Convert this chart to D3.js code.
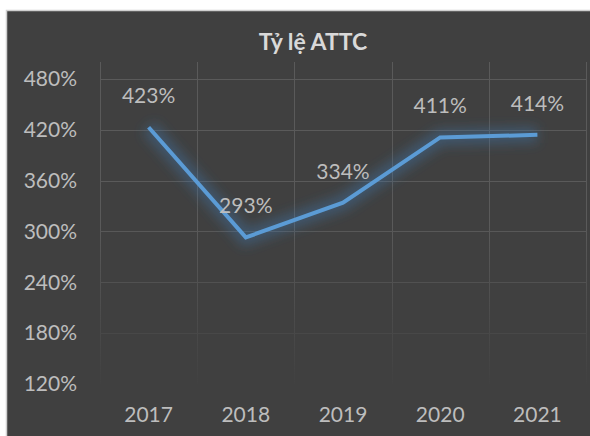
<!DOCTYPE html>
<html><head><meta charset="utf-8">
<script src="https://cdn.jsdelivr.net/npm/d3@7"></script>
<style>html,body{margin:0;padding:0;background:#fff;}svg{display:block;}</style>
</head><body>
<script>
const years = ["2017","2018","2019","2020","2021"];
const ratios = [423, 293, 334, 411, 414];
const yTicks = [120, 180, 240, 300, 360, 420, 480];
const title = "Tỷ lệ ATTC";

const W = 590, H = 436;
const svg = d3.select("body").append("svg").attr("width", W).attr("height", H);
const defs = svg.append("defs");

const glow = defs.append("filter").attr("id","glow").attr("x","-20%").attr("y","-50%").attr("width","140%").attr("height","200%");
glow.append("feGaussianBlur").attr("stdDeviation", 6);

const grad = defs.append("linearGradient").attr("id","fade").attr("gradientUnits","userSpaceOnUse")
  .attr("x1",0).attr("y1",225).attr("x2",0).attr("y2",392);
grad.append("stop").attr("offset",0).attr("stop-color","#fff").attr("stop-opacity",1);
grad.append("stop").attr("offset",1).attr("stop-color","#fff").attr("stop-opacity",0);
defs.append("mask").attr("id","gridmask").attr("maskUnits","userSpaceOnUse")
  .attr("x",0).attr("y",0).attr("width",W).attr("height",H)
  .append("rect").attr("x",0).attr("y",0).attr("width",W).attr("height",H).attr("fill","url(#fade)");

// panel
svg.append("rect").attr("x",6.5).attr("y",10.5).attr("width",W).attr("height",H)
  .attr("fill","#404040").attr("stroke","#d0d0d0").attr("stroke-width",1.5);

const x = d3.scaleBand().domain(years).range([100, 586]);
const y = d3.scaleLinear().domain([120, 500]).range([384, 62]);

const font = "Lato, 'Open Sans', sans-serif";
const txtCol = "#bdbdbd";

// grid
const grid = svg.append("g").attr("mask","url(#gridmask)");
grid.selectAll("line.h").data(yTicks.filter(d => d > 120)).join("line")
  .attr("x1",100).attr("x2",586).attr("y1",d=>Math.round(y(d))+0.5).attr("y2",d=>Math.round(y(d))+0.5)
  .attr("stroke","#5a5a5a").attr("stroke-width",1);
const vx = years.map(d => x(d)).concat([x.range()[1]]);
grid.selectAll("line.v").data(vx).join("line")
  .attr("x1",d=>Math.round(d)+0.5).attr("x2",d=>Math.round(d)+0.5).attr("y1",y(500)).attr("y2",y(120))
  .attr("stroke","#5a5a5a").attr("stroke-width",1);

// y axis labels
const yAxis = d3.axisLeft(y).tickValues(yTicks).tickFormat(d => d + "%").tickSize(0).tickPadding(0);
const ya = svg.append("g").attr("transform","translate(77,0)").call(yAxis);
ya.select(".domain").remove();
ya.selectAll("text").attr("fill",txtCol).style("font-family",font).style("font-size","21px").style("font-weight","400");

// x axis labels
const xAxis = d3.axisBottom(x).tickSize(0).tickPadding(0);
const xa = svg.append("g").attr("transform","translate(0,407)").call(xAxis);
xa.select(".domain").remove();
xa.selectAll("text").attr("fill",txtCol).style("font-family",font).style("font-size","21px").style("font-weight","400");

// line
const pts = years.map((d,i) => [x(d) + x.bandwidth()/2, y(ratios[i])]);
const line = d3.line();
svg.append("path").attr("d", line(pts)).attr("fill","none").attr("stroke","#3d78b0")
  .attr("stroke-opacity",0.4).attr("stroke-width",16).attr("filter","url(#glow)");
svg.append("path").attr("d", line(pts)).attr("fill","none").attr("stroke","#5b9bd5")
  .attr("stroke-width",4).attr("stroke-linejoin","miter");

// data labels
svg.selectAll("text.lbl").data(ratios).join("text").attr("class","lbl")
  .attr("x",(d,i)=>pts[i][0]).attr("y",(d,i)=>pts[i][1]-24)
  .attr("text-anchor","middle").attr("fill",txtCol)
  .style("font-family",font).style("font-size","21px").style("font-weight","400").text(d => d + "%");

// title
svg.append("text").attr("x",313).attr("y",50).attr("text-anchor","middle")
  .attr("fill","#d9d9d9").style("font-family",font).style("font-size","23px").style("font-weight","bold")
  .text(title);
</script>
</body></html>
